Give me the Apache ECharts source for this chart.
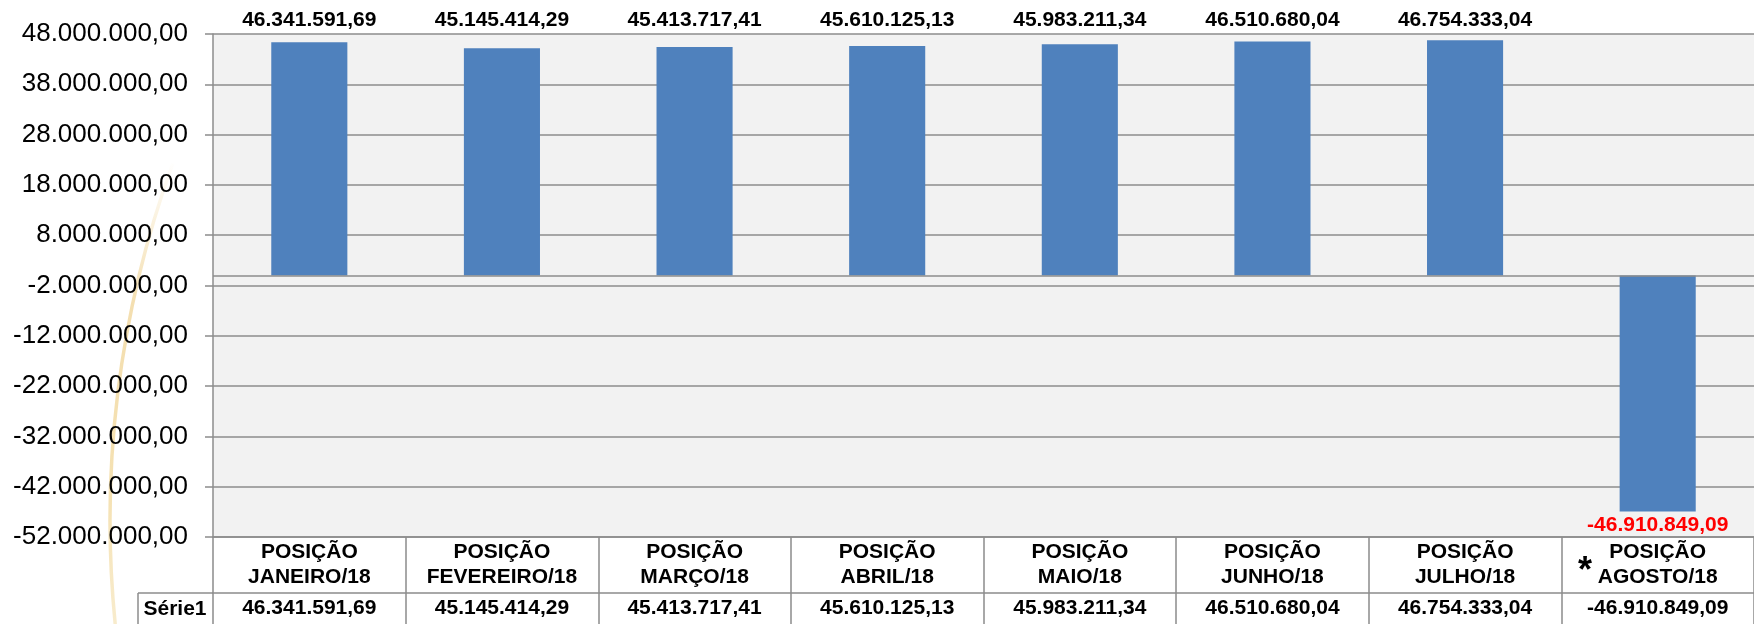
<!DOCTYPE html>
<html>
<head>
<meta charset="utf-8">
<title>Posição mensal</title>
<script src="https://cdn.jsdelivr.net/npm/echarts@6.0.0/dist/echarts.min.js"></script>
<style>
  html, body { margin: 0; padding: 0; background: #fff; }
  #main { width: 1754px; height: 624px; }
</style>
</head>
<body>
<div id="main"></div>
<script>
// dados
var months = ['JANEIRO/18', 'FEVEREIRO/18', 'MARÇO/18', 'ABRIL/18', 'MAIO/18', 'JUNHO/18', 'JULHO/18', 'AGOSTO/18'];
var values = [46341591.69, 45145414.29, 45413717.41, 45610125.13, 45983211.34, 46510680.04, 46754333.04, -46910849.09];
var seriesName = 'Série1';
var yMin = -52000000;
var yMax = 48000000;
var yStep = 10000000;

// 48000000 -> "48.000.000,00"
function fmt(v) {
    var neg = v < 0;
    var parts = Math.abs(v).toFixed(2).split('.');
    var intPart = parts[0].replace(/\B(?=(\d{3})+(?!\d))/g, '.');
    return (neg ? '-' : '') + intPart + ',' + parts[1];
}

var categories = months.map(function(m) { return 'POSIÇÃO\n' + m; });
var lineColor = '#8c8c8c';
var font = 'Liberation Sans, Arial, sans-serif';

var myChart = echarts.init(document.getElementById('main'));

var option = {
    backgroundColor: '#ffffff',
    animation: false,
    grid: {
        left: 213,
        right: 0,
        top: 34,
        bottom: 87,
        show: true,
        backgroundColor: '#f2f2f2',
        borderWidth: 0
    },
    xAxis: [{
        type: 'category',
        data: categories,
        position: 'bottom',
        axisLine: { onZero: false, lineStyle: { color: lineColor, width: 1.5 } },
        axisTick: { show: true, length: 87, lineStyle: { color: lineColor, width: 1.5 } },
        axisLabel: {
            interval: 0,
            margin: 3,
            color: '#000',
            fontFamily: font,
            fontWeight: 'bold',
            fontSize: 21,
            lineHeight: 25
        }
    }, {
        type: 'category',
        data: values.map(fmt),
        position: 'bottom',
        offset: 56,
        axisLine: { onZero: false, lineStyle: { color: lineColor, width: 1.5 } },
        axisTick: { show: false },
        axisLabel: {
            interval: 0,
            margin: 5,
            color: '#000',
            fontFamily: font,
            fontWeight: 'bold',
            fontSize: 21
        }
    }],
    yAxis: {
        type: 'value',
        min: yMin,
        max: yMax,
        interval: yStep,
        axisLine: { show: true, lineStyle: { color: lineColor, width: 1.5 } },
        axisTick: { show: true, length: 8, lineStyle: { color: lineColor, width: 1.5 } },
        splitLine: { show: true, lineStyle: { color: lineColor, width: 1.5 } },
        axisLabel: {
            margin: 25,
            color: '#000',
            fontFamily: font,
            fontSize: 26,
            formatter: function(v) { return fmt(v); }
        }
    },
    graphic: [
        // arco decorativo do slide
        {
            type: 'arc',
            z: -10,
            silent: true,
            shape: {
                cx: 1153, cy: 520, r: 1043,
                startAngle: 174 * Math.PI / 180,
                endAngle: 200 * Math.PI / 180,
                clockwise: true
            },
            style: {
                fill: null,
                lineWidth: 3.5,
                stroke: {
                    type: 'linear', x: 0, y: 0, x2: 0, y2: 1,
                    colorStops: [
                        { offset: 0, color: 'rgba(240,212,150,0)' },
                        { offset: 0.3, color: 'rgba(240,212,150,0.75)' },
                        { offset: 0.7, color: 'rgba(243,220,165,0.85)' },
                        { offset: 1, color: 'rgba(245,228,185,0.7)' }
                    ]
                }
            }
        },
        // celula "Série1" da tabela
        {
            type: 'line',
            silent: true,
            shape: { x1: 138, y1: 593, x2: 213, y2: 593 },
            style: { stroke: lineColor, lineWidth: 1.5 }
        },
        {
            type: 'line',
            silent: true,
            shape: { x1: 138, y1: 593, x2: 138, y2: 624 },
            style: { stroke: lineColor, lineWidth: 1.5 }
        },
        {
            type: 'text',
            silent: true,
            x: 175,
            y: 609,
            style: {
                text: seriesName,
                fill: '#000',
                font: 'bold 21px ' + font,
                textAlign: 'center',
                textVerticalAlign: 'middle'
            }
        },
        {
            type: 'text',
            silent: true,
            x: 1585,
            y: 572,
            style: {
                text: '*',
                fill: '#000',
                font: 'bold 36px ' + font,
                textAlign: 'center',
                textVerticalAlign: 'middle'
            }
        }
    ],
    series: [{
        name: seriesName,
        type: 'bar',
        barWidth: '39.5%',
        data: values,
        itemStyle: { color: '#4f81bd' },
        label: {
            show: true,
            color: '#000',
            fontFamily: font,
            fontWeight: 'bold',
            fontSize: 21,
            formatter: function(p) { return fmt(p.value); }
        },
        markLine: {
            silent: true,
            symbol: 'none',
            label: { show: false },
            lineStyle: { color: lineColor, width: 1.5, type: 'solid' },
            data: [{ yAxis: 0 }]
        }
    }]
};
myChart.setOption(option);

// rótulos positivos alinhados no topo do gráfico, o negativo embaixo da barra em vermelho
var yTopPx = myChart.convertToPixel({ yAxisIndex: 0 }, yMax);
var items = values.map(function(v) {
    if (v >= 0) {
        var py = myChart.convertToPixel({ yAxisIndex: 0 }, v);
        return { value: v, label: { position: 'top', distance: (py - yTopPx) + 3 } };
    }
    return { value: v, label: { position: 'bottom', distance: 3, color: '#ff0000' } };
});
myChart.setOption({ series: [{ data: items }] });
</script>
</body>
</html>
